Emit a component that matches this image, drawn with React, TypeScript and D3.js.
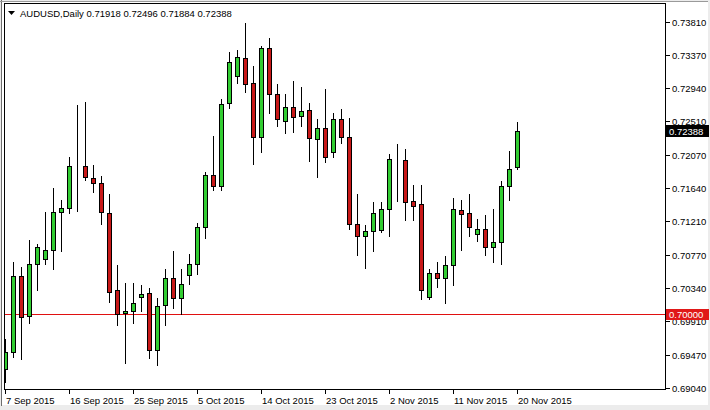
import React from "react";
import * as d3 from "d3";

const dates = [
  "2015-09-07","2015-09-08","2015-09-09","2015-09-10","2015-09-11",
  "2015-09-13","2015-09-14","2015-09-15","2015-09-16","2015-09-17","2015-09-18",
  "2015-09-20","2015-09-21","2015-09-22","2015-09-23","2015-09-24","2015-09-25",
  "2015-09-27","2015-09-28","2015-09-29","2015-09-30","2015-10-01","2015-10-02",
  "2015-10-04","2015-10-05","2015-10-06","2015-10-07","2015-10-08","2015-10-09",
  "2015-10-11","2015-10-12","2015-10-13","2015-10-14","2015-10-15","2015-10-16",
  "2015-10-18","2015-10-19","2015-10-20","2015-10-21","2015-10-22","2015-10-23",
  "2015-10-25","2015-10-26","2015-10-27","2015-10-28","2015-10-29","2015-10-30",
  "2015-11-01","2015-11-02","2015-11-03","2015-11-04","2015-11-05","2015-11-06",
  "2015-11-08","2015-11-09","2015-11-10","2015-11-11","2015-11-12","2015-11-13",
  "2015-11-15","2015-11-16","2015-11-17","2015-11-18","2015-11-19","2015-11-20",
];

const opens = [
  0.69285,0.69499,0.70494,0.69970,0.70648,0.70713,0.70831,0.71324,0.71382,0.71914,
  0.71923,0.71775,0.71709,0.71316,0.70307,0.70006,0.70036,0.70223,0.70268,0.69534,
  0.70110,0.70472,0.70210,0.70504,0.70648,0.71127,0.71814,0.71665,0.72745,0.73106,
  0.73334,0.73007,0.72307,0.73465,0.72862,0.72517,0.72692,0.72582,0.72657,0.72273,
  0.72417,0.72110,0.72539,0.72299,0.71172,0.71009,0.71075,0.71097,0.71369,0.72015,
  0.72002,0.71477,0.71425,0.70223,0.70530,0.70472,0.70635,0.71359,0.71316,0.71041,
  0.71106,0.70865,0.70940,0.71661,0.71918,
];
const highs = [
  0.69678,0.70678,0.70616,0.70966,0.70910,0.71324,0.71638,0.71490,0.72045,0.72722,
  0.72758,0.71936,0.71792,0.71556,0.70635,0.70399,0.70399,0.70370,0.70333,0.70202,
  0.70582,0.70822,0.70582,0.70779,0.71189,0.71848,0.72316,0.72797,0.73413,0.73443,
  0.73784,0.73233,0.73486,0.73596,0.72997,0.72866,0.73037,0.72962,0.72745,0.72539,
  0.72932,0.72614,0.72666,0.72548,0.71565,0.71163,0.71455,0.71455,0.72089,0.72211,
  0.72146,0.71674,0.71674,0.70590,0.70678,0.70757,0.71513,0.71490,0.71556,0.71237,
  0.71290,0.71369,0.71730,0.72119,0.72496,
];
const lows = [
  0.69109,0.69433,0.69411,0.69882,0.70311,0.70648,0.70590,0.70822,0.71311,0.71337,
  0.71749,0.71586,0.71172,0.70158,0.69861,0.69358,0.69875,0.70036,0.69424,0.69337,
  0.69861,0.70079,0.69992,0.70394,0.70521,0.70988,0.71618,0.71618,0.72679,0.73015,
  0.72897,0.71949,0.72110,0.72621,0.72447,0.72351,0.72364,0.72447,0.71992,0.71783,
  0.71979,0.72045,0.72228,0.71106,0.70766,0.70595,0.70813,0.71062,0.71009,0.71477,
  0.71224,0.71224,0.70197,0.70194,0.70354,0.70137,0.70373,0.70831,0.71019,0.70953,
  0.70770,0.70678,0.70656,0.71490,0.71884,
];
const closes = [
  0.69499,0.70494,0.69957,0.70648,0.70874,0.70831,0.71333,0.71382,0.71923,0.71920,
  0.71783,0.71709,0.71324,0.70289,0.69992,0.70036,0.70141,0.70255,0.69534,0.70097,
  0.70472,0.70210,0.70386,0.70648,0.71137,0.71814,0.71665,0.72731,0.73282,0.73347,
  0.72997,0.72307,0.73465,0.72862,0.72535,0.72700,0.72569,0.72644,0.72286,0.72417,
  0.72045,0.72539,0.72299,0.71172,0.71009,0.71084,0.71316,0.71369,0.72024,0.72015,
  0.71464,0.71403,0.70307,0.70530,0.70472,0.70635,0.71369,0.71303,0.71127,0.71106,
  0.70874,0.70940,0.71665,0.71893,0.72388,
];

const xTickDates = ["2015-09-07","2015-09-16","2015-09-25","2015-10-05","2015-10-14","2015-10-23","2015-11-02","2015-11-11","2015-11-20"];
const xTickLabels = ["7 Sep 2015","16 Sep 2015","25 Sep 2015","5 Oct 2015","14 Oct 2015","23 Oct 2015","2 Nov 2015","11 Nov 2015","20 Nov 2015"];
const yTickValues = [0.73810,0.73370,0.72940,0.72510,0.72070,0.71640,0.71210,0.70770,0.70340,0.69910,0.69470,0.69040];
const levelLine = 0.70000;
const symbolTitle = "AUDUSD,Daily";

const W = 710, H = 410;
const plotL = 4, plotR = 665, plotT = 3, plotB = 389;
const FONT = "'Liberation Sans', Arial, sans-serif";
const GREEN = "#32cd32";
const RED = "#c81818";

export default function App() {
  const x = d3.scalePoint<string>().domain(dates).range([5.5, 5.5 + (dates.length - 1) * 8]);
  const y = d3.scaleLinear().domain([0.6904, 0.7381]).range([387.5, 21.5]);
  const fmt = d3.format(".5f");
  const last = closes[closes.length - 1];
  const lastY = Math.round(y(last));
  const lvlY = Math.round(y(levelLine)) + 0.5;

  return (
    <svg width={W} height={H} style={{ position: "absolute", left: 0, top: 0, display: "block" }} fontFamily={FONT}>
      <defs>
        <clipPath id="plotclip">
          <rect x={plotL + 1} y={plotT + 1} width={plotR - plotL - 1} height={plotB - plotT - 1} />
        </clipPath>
      </defs>
      <rect x={0} y={0} width={W} height={H} fill="#ececec" />
      <rect x={2} y={2} width={W - 4} height={403} fill="#ffffff" />
      <line x1={1.5} y1={0} x2={1.5} y2={406} stroke="#6e6e6e" strokeWidth={1} />
      <line x1={0} y1={1.5} x2={708} y2={1.5} stroke="#9a9a9a" strokeWidth={1} />

      <g clipPath="url(#plotclip)">
        <line x1={plotL} x2={plotR} y1={lvlY} y2={lvlY} stroke="#e01010" strokeWidth={1} />
        {dates.map((d, i) => {
          const cx = x(d)!;
          const o = opens[i], c = closes[i];
          const top = Math.round(y(Math.max(o, c)));
          const bot = Math.round(y(Math.min(o, c)));
          const fill = c > o ? GREEN : c < o ? RED : "#000";
          return (
            <g key={d}>
              <line x1={cx} x2={cx} y1={Math.round(y(highs[i]))} y2={Math.round(y(lows[i])) + 1} stroke="#000" strokeWidth={1} />
              <rect x={cx - 2} y={top + 0.5} width={4} height={Math.max(0, bot - top)} fill={fill} stroke="#000" strokeWidth={1} />
            </g>
          );
        })}
      </g>

      <rect x={plotL + 0.5} y={plotT + 0.5} width={plotR - plotL} height={plotB - plotT} fill="none" stroke="#000" strokeWidth={1} />

      {/* title */}
      <path d="M8,11 L15,11 L11.5,15 Z" fill="#000" />
      <text x={20} y={16.5} fontSize={9.5} fill="#000">
        {symbolTitle + "  " + [opens, highs, lows, closes].map((a) => fmt(a[a.length - 1])).join(" ")}
      </text>

      {/* y axis */}
      {yTickValues.map((v) => {
        const ty = Math.round(y(v)) + 0.5;
        return (
          <g key={v}>
            <line x1={666} x2={670} y1={ty} y2={ty} stroke="#000" strokeWidth={1} />
            <text x={672} y={ty + 3.5} fontSize={9.5} fill="#000">{fmt(v)}</text>
          </g>
        );
      })}
      <rect x={666} y={lastY - 6} width={43} height={12} fill="#000" />
      <text x={669} y={lastY + 3.5} fontSize={9.5} fill="#fff">{fmt(last)}</text>
      <rect x={666} y={Math.round(y(levelLine)) - 5} width={43} height={11} fill="#e01818" />
      <text x={669} y={Math.round(y(levelLine)) + 4} fontSize={9.5} fill="#fff">{fmt(levelLine)}</text>

      {/* x axis */}
      {xTickDates.map((d, i) => {
        const tx = Math.floor(x(d)!) + 0.5;
        return (
          <g key={d}>
            <line x1={tx} x2={tx} y1={plotB} y2={plotB + 5} stroke="#000" strokeWidth={1} />
            <text x={tx + 0.5} y={403.5} fontSize={9.5} fill="#000">{xTickLabels[i]}</text>
          </g>
        );
      })}
    </svg>
  );
}
